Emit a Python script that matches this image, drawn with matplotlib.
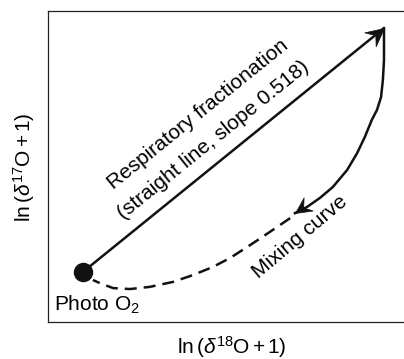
import numpy as np
import matplotlib
matplotlib.use("Agg")
import matplotlib.pyplot as plt
from matplotlib.path import Path
from matplotlib.markers import MarkerStyle
from matplotlib.transforms import Affine2D

plt.rcParams['font.family'] = ['Liberation Sans', 'DejaVu Sans']
plt.rcParams['mathtext.fontset'] = 'custom'
plt.rcParams['mathtext.rm'] = 'Liberation Sans'
plt.rcParams['mathtext.it'] = 'Liberation Sans:italic'
plt.rcParams['mathtext.bf'] = 'Liberation Sans:bold'

# ---- data (schematic, axis units 0..1) ----
photo_o2 = (0.095, 0.161)
resp_end = (0.913, 0.945)

curve_solid_x = [0.913, 0.913, 0.913, 0.910, 0.905, 0.894, 0.880, 0.861, 0.840,
                 0.813, 0.774, 0.739, 0.704, 0.671]
curve_solid_y = [0.945, 0.907, 0.842, 0.778, 0.723, 0.682, 0.650, 0.595, 0.543,
                 0.489, 0.434, 0.399, 0.370, 0.350]

curve_dash_x = [0.658, 0.622, 0.582, 0.541, 0.495, 0.448, 0.394, 0.340, 0.277,
                0.223, 0.177, 0.141, 0.122]
curve_dash_y = [0.334, 0.305, 0.273, 0.241, 0.206, 0.177, 0.151, 0.129, 0.113,
                0.106, 0.109, 0.125, 0.135]

label_resp1 = "Respiratory fractionation"
label_resp2 = "(straight line, slope 0.518)"
label_mix = "Mixing curve"
label_photo = r"Photo O$_2$"
xlabel = r"ln$\,$($\delta^{18}$O$\,$+$\,$1)"
ylabel = r"ln$\,$($\delta^{17}$O$\,$+$\,$1)"

W, H = 404, 359
fig = plt.figure(figsize=(W / 100, H / 100), dpi=100)
ax = fig.add_axes([48 / W, (H - 322) / H, 368 / W, 311 / H])
ax.set_xlim(0, 1)
ax.set_ylim(0, 1)
ax.set_xticks([])
ax.set_yticks([])
for s in ax.spines.values():
    s.set_linewidth(0.9)
    s.set_color('#222222')

lw = 1.8
ax.plot([photo_o2[0], resp_end[0]], [photo_o2[1], resp_end[1]], color='#111111', lw=lw,
        solid_capstyle='butt')
ax.plot(curve_solid_x, curve_solid_y, color='#111111', lw=lw, solid_joinstyle='round')
ax.plot(curve_dash_x, curve_dash_y, color='#111111', lw=lw, dashes=(4.8, 2.8),
        dash_capstyle='butt')
ax.plot([photo_o2[0]], [photo_o2[1]], 'o', color='#111111', ms=13)

# stealth arrowhead marker (tip at origin)
head = Path([(0, 0), (-1.0, 0.5), (-0.62, 0), (-1.0, -0.5), (0, 0)],
            [Path.MOVETO, Path.LINETO, Path.LINETO, Path.LINETO, Path.CLOSEPOLY])

def add_head(p_from, p_to, ms):
    a = ax.transData.transform(p_from)
    b = ax.transData.transform(p_to)
    ang = np.degrees(np.arctan2(b[1] - a[1], b[0] - a[0]))
    m = MarkerStyle(head, transform=Affine2D().rotate_deg(ang))
    ax.plot([p_to[0]], [p_to[1]], marker=m, ms=ms, color='#111111', mec='#111111', mew=0.5,
            linestyle='none')
    return ang

ang = add_head(photo_o2, resp_end, 26)
add_head((curve_solid_x[-4], curve_solid_y[-4]), (curve_solid_x[-1], curve_solid_y[-1]), 23)

fs = 15
ax.text(0.408, 0.666, label_resp1, rotation=ang, rotation_mode='anchor',
        ha='center', va='center', fontsize=fs)
ax.text(0.448, 0.585, label_resp2, rotation=ang, rotation_mode='anchor',
        ha='center', va='center', fontsize=fs)
ax.text(0.685, 0.273, label_mix, rotation=40, rotation_mode='anchor',
        ha='center', va='center', fontsize=fs)
ax.text(0.016, 0.055, label_photo, ha='left', va='center', fontsize=fs)

fig.text(232 / W, 1 - 347 / H, xlabel, ha='center', va='center', fontsize=fs)
fig.text(24 / W, 1 - 167 / H, ylabel, ha='center', va='center', fontsize=fs, rotation=90)

fig.savefig('out.png', dpi=100)
